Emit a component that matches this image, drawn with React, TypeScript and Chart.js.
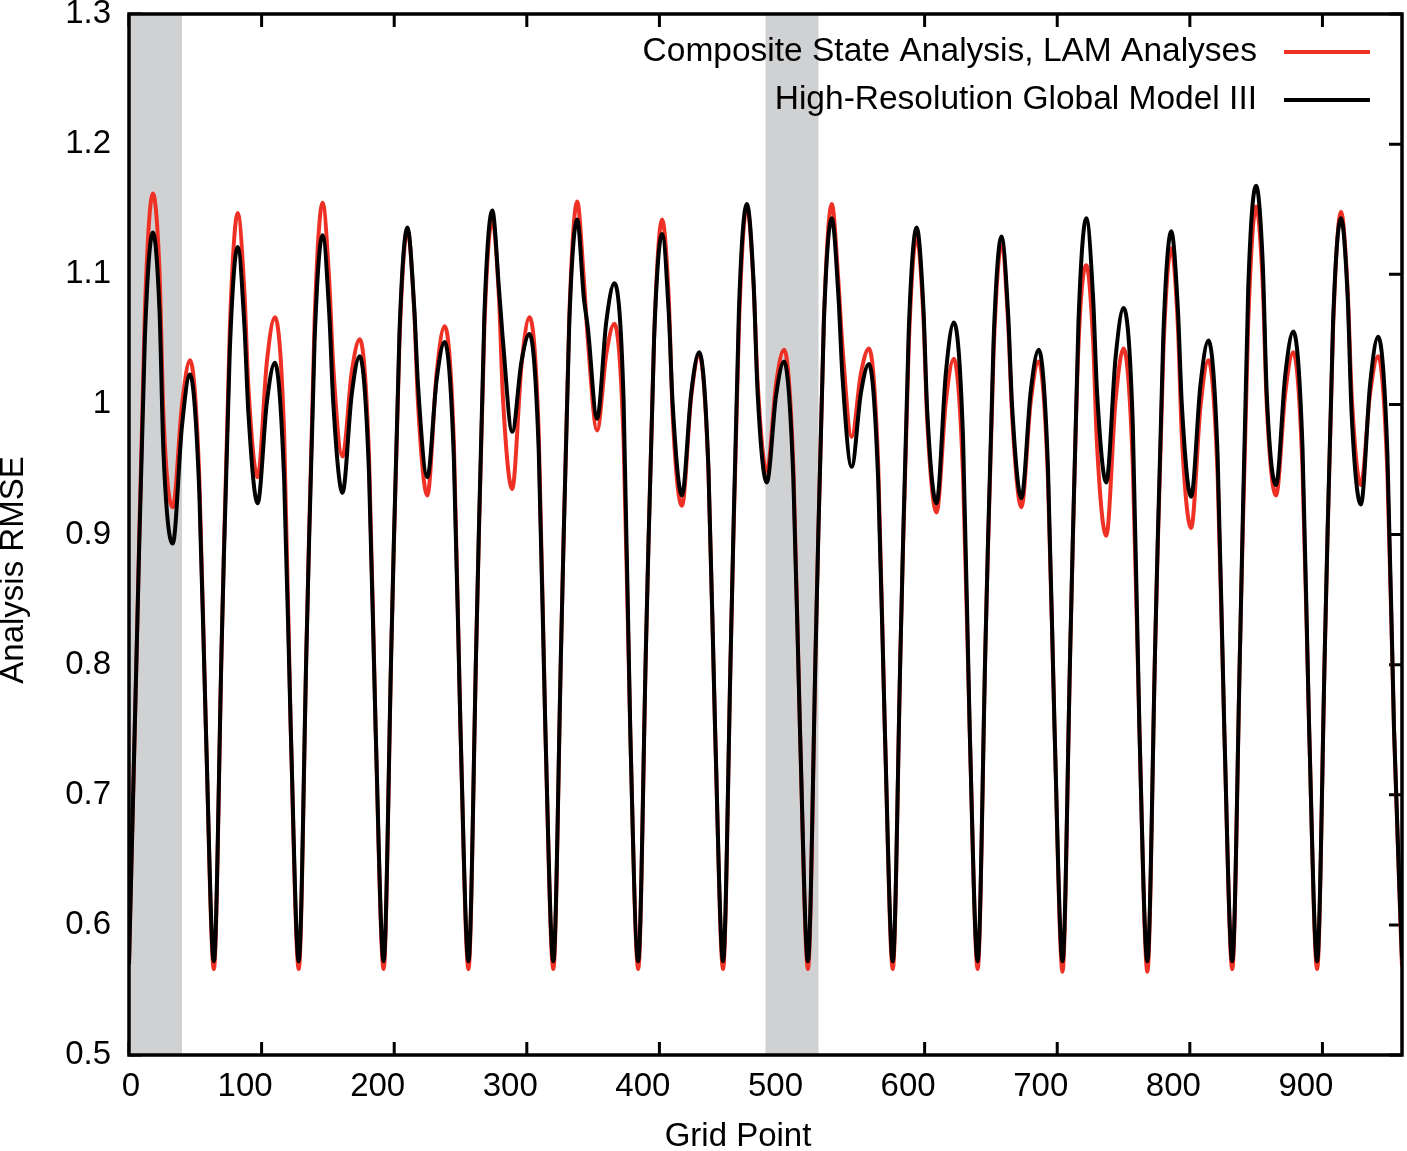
import { useEffect, useRef } from "react";
import { Chart, registerables } from "chart.js";

Chart.register(...registerables);

const RED = "#ee3124";
const BLACK = "#000000";
const SHADE = "#d0d1d3";
const FONT = '"Liberation Sans", Arial, Helvetica, sans-serif';

// grid points where the curves were read (trough, rise, peak, shoulder, dip, second peak, fall) for each of the 15 cycles
const gridPoints = [
  0, 6, 12, 18, 23, 26, 33, 40, 46, 53, 58,
  64, 70, 76, 82, 87, 90, 97, 104, 110, 117, 122,
  128, 134, 140, 146, 151, 154, 161, 168, 174, 181, 186,
  192, 198, 204, 210, 215, 218, 225, 232, 238, 245, 250,
  256, 262, 268, 274, 279, 282, 289, 296, 302, 309, 314,
  320, 326, 332, 338, 343, 346, 353, 360, 366, 373, 378,
  384, 390, 396, 402, 407, 410, 417, 424, 430, 437, 442,
  448, 454, 460, 466, 471, 474, 481, 488, 494, 501, 506,
  512, 518, 524, 530, 535, 538, 545, 552, 558, 565, 570,
  576, 582, 588, 594, 599, 602, 609, 616, 622, 629, 634,
  640, 646, 652, 658, 663, 666, 673, 680, 686, 693, 698,
  704, 710, 716, 722, 727, 730, 737, 744, 750, 757, 762,
  768, 774, 780, 786, 791, 794, 801, 808, 814, 821, 826,
  832, 838, 844, 850, 855, 858, 865, 872, 878, 885, 890,
  896, 902, 908, 914, 919, 922, 929, 936, 942, 949, 954,
  960,
];

// Composite State Analysis, LAM Analyses (red)
const compositeRmse = [
  0.570, 0.820, 1.072, 1.162, 1.102, 0.991, 0.921, 1.000, 1.034, 0.944, 0.750,
  0.566, 0.820, 1.057, 1.147, 1.087, 1.014, 0.944, 1.033, 1.067, 0.977, 0.750,
  0.566, 0.820, 1.065, 1.155, 1.095, 1.030, 0.960, 1.025, 1.050, 0.960, 0.750,
  0.566, 0.820, 1.050, 1.134, 1.074, 1.000, 0.930, 1.024, 1.060, 0.970, 0.750,
  0.566, 0.820, 1.060, 1.142, 1.082, 1.005, 0.935, 1.030, 1.067, 0.977, 0.750,
  0.566, 0.820, 1.066, 1.156, 1.096, 1.050, 0.980, 1.039, 1.062, 0.972, 0.750,
  0.566, 0.820, 1.052, 1.142, 1.082, 0.992, 0.922, 1.006, 1.038, 0.948, 0.750,
  0.566, 0.820, 1.062, 1.152, 1.092, 1.018, 0.948, 1.016, 1.042, 0.952, 0.750,
  0.566, 0.820, 1.064, 1.154, 1.094, 1.045, 0.975, 1.024, 1.043, 0.953, 0.750,
  0.566, 0.820, 1.045, 1.129, 1.069, 0.987, 0.917, 1.002, 1.035, 0.945, 0.750,
  0.566, 0.820, 1.040, 1.122, 1.062, 0.991, 0.921, 1.002, 1.033, 0.943, 0.750,
  0.564, 0.820, 1.045, 1.107, 1.050, 0.969, 0.899, 1.003, 1.043, 0.953, 0.750,
  0.564, 0.820, 1.040, 1.120, 1.060, 0.975, 0.905, 0.998, 1.034, 0.944, 0.750,
  0.566, 0.820, 1.062, 1.152, 1.092, 1.000, 0.930, 1.009, 1.040, 0.950, 0.750,
  0.566, 0.820, 1.058, 1.148, 1.088, 1.008, 0.938, 1.009, 1.037, 0.947, 0.750,
  0.568,
];

// High-Resolution Global Model III (black)
const globalRmse = [
  0.570, 0.820, 1.052, 1.132, 1.072, 0.963, 0.893, 0.984, 1.023, 0.933, 0.750,
  0.572, 0.820, 1.041, 1.121, 1.061, 0.994, 0.924, 1.002, 1.032, 0.942, 0.750,
  0.572, 0.820, 1.050, 1.130, 1.070, 1.002, 0.932, 1.008, 1.037, 0.947, 0.750,
  0.572, 0.820, 1.056, 1.136, 1.076, 1.014, 0.944, 1.019, 1.048, 0.958, 0.750,
  0.572, 0.820, 1.069, 1.149, 1.089, 1.049, 0.979, 1.033, 1.054, 0.964, 0.750,
  0.572, 0.820, 1.062, 1.142, 1.082, 1.059, 0.989, 1.064, 1.093, 1.003, 0.750,
  0.572, 0.820, 1.051, 1.131, 1.071, 1.000, 0.930, 1.009, 1.040, 0.950, 0.750,
  0.572, 0.820, 1.074, 1.154, 1.094, 1.010, 0.940, 1.007, 1.033, 0.943, 0.750,
  0.572, 0.820, 1.063, 1.143, 1.083, 1.022, 0.952, 1.009, 1.031, 0.941, 0.750,
  0.572, 0.820, 1.056, 1.136, 1.076, 0.994, 0.924, 1.024, 1.063, 0.973, 0.750,
  0.572, 0.820, 1.049, 1.129, 1.069, 0.998, 0.928, 1.010, 1.042, 0.952, 0.750,
  0.572, 0.820, 1.063, 1.143, 1.083, 1.010, 0.940, 1.036, 1.074, 0.984, 0.750,
  0.572, 0.820, 1.053, 1.133, 1.073, 0.999, 0.929, 1.015, 1.049, 0.959, 0.750,
  0.572, 0.820, 1.088, 1.168, 1.108, 1.008, 0.938, 1.023, 1.056, 0.966, 0.750,
  0.572, 0.820, 1.063, 1.143, 1.083, 0.993, 0.923, 1.016, 1.052, 0.962, 0.750,
  0.574,
];

const shadedRanges: [number, number][] = [
  [0, 40],
  [480, 520],
];

const seriesNames = ["Composite State Analysis, LAM Analyses", "High-Resolution Global Model III"];
const seriesColors = [RED, BLACK];

const TICK_LEN = 13;

const gnuplotLook = {
  id: "gnuplotLook",
  beforeDatasetsDraw(chart: any) {
    const { ctx, chartArea: a, scales } = chart;
    const xs = scales.x;
    const ys = scales.y;
    ctx.save();
    ctx.strokeStyle = "#000";
    ctx.lineWidth = 3;
    ctx.beginPath();
    ys.ticks.forEach((t: any) => {
      const py = ys.getPixelForValue(t.value);
      ctx.moveTo(a.left, py);
      ctx.lineTo(a.left + TICK_LEN, py);
      ctx.moveTo(a.right, py);
      ctx.lineTo(a.right - TICK_LEN, py);
    });
    xs.ticks.forEach((t: any) => {
      const px = xs.getPixelForValue(t.value);
      ctx.moveTo(px, a.bottom);
      ctx.lineTo(px, a.bottom - TICK_LEN);
      ctx.moveTo(px, a.top);
      ctx.lineTo(px, a.top + TICK_LEN);
    });
    ctx.stroke();

    ctx.fillStyle = SHADE;
    shadedRanges.forEach(([s, e]) => {
      const l = xs.getPixelForValue(s);
      const r = xs.getPixelForValue(e);
      ctx.fillRect(l, a.top, r - l, a.bottom - a.top);
    });
    ctx.restore();
  },
  afterDatasetsDraw(chart: any) {
    const { ctx, chartArea: a } = chart;
    ctx.save();
    ctx.strokeStyle = "#000";
    ctx.lineWidth = 3.5;
    ctx.strokeRect(a.left, a.top, a.right - a.left, a.bottom - a.top);

    // key, text to the left of the line sample
    ctx.font = `33.5px ${FONT}`;
    ctx.fillStyle = "#000";
    ctx.textAlign = "right";
    ctx.textBaseline = "middle";
    seriesNames.forEach((name, i) => {
      const cy = 52 + i * 48;
      ctx.fillText(name, 1257, cy);
      ctx.strokeStyle = seriesColors[i];
      ctx.lineWidth = 4;
      ctx.beginPath();
      ctx.moveTo(1284, cy);
      ctx.lineTo(1370, cy);
      ctx.stroke();
    });

    // axis titles
    ctx.font = `33px ${FONT}`;
    ctx.textAlign = "center";
    ctx.fillText("Grid Point", 738, 1137);
    ctx.translate(14, 570);
    ctx.rotate(-Math.PI / 2);
    ctx.fillText("Analysis RMSE", 0, 0);
    ctx.restore();
  },
};

export default function App() {
  const canvasRef = useRef<HTMLCanvasElement>(null);
  const chartRef = useRef<Chart | null>(null);

  useEffect(() => {
    const el = canvasRef.current;
    if (!el) return;
    chartRef.current?.destroy();

    const series = [compositeRmse, globalRmse];
    chartRef.current = new Chart(el, {
      type: "line",
      data: {
        datasets: [1, 0].map((s) => ({
          label: seriesNames[s],
          data: gridPoints.map((g, i) => ({ x: g, y: series[s][i] })),
          borderColor: seriesColors[s],
          backgroundColor: seriesColors[s],
          order: s === 1 ? 0 : 1,
        })),
      },
      options: {
        animation: false,
        responsive: true,
        maintainAspectRatio: false,
        layout: { padding: { top: 14, right: 5, left: 0, bottom: 0 } },
        elements: {
          point: { radius: 0 },
          line: { borderWidth: 4, cubicInterpolationMode: "monotone", fill: false },
        },
        plugins: {
          legend: { display: false },
          tooltip: { enabled: false },
        },
        scales: {
          x: {
            type: "linear",
            min: 0,
            max: 960,
            grid: { display: false, drawTicks: false },
            border: { display: false },
            ticks: {
              stepSize: 100,
              includeBounds: false,
              align: "end",
              labelOffset: 11,
              padding: 12,
              maxRotation: 0,
              color: "#000",
              font: { family: FONT, size: 33 },
            },
            afterFit: (s: any) => {
              s.height = 96;
            },
          },
          y: {
            min: 0.5,
            max: 1.3,
            // the gap between labels and frame comes from tickLength, so no extra top padding is added
            grid: { display: false, drawTicks: true, tickLength: 18 },
            border: { display: false },
            ticks: {
              stepSize: 0.1,
              padding: 0,
              color: "#000",
              font: { family: FONT, size: 33, lineHeight: 0.8 },
              callback: (v: any) => Number(v).toFixed(1).replace(/\.0$/, ""),
            },
            afterFit: (s: any) => {
              s.width = 129;
            },
          },
        },
      } as any,
      plugins: [gnuplotLook],
    });

    return () => chartRef.current?.destroy();
  }, []);

  return (
    <div style={{ position: "absolute", left: 0, top: 0, width: 1407, height: 1151, background: "#fff" }}>
      <canvas ref={canvasRef} />
    </div>
  );
}
